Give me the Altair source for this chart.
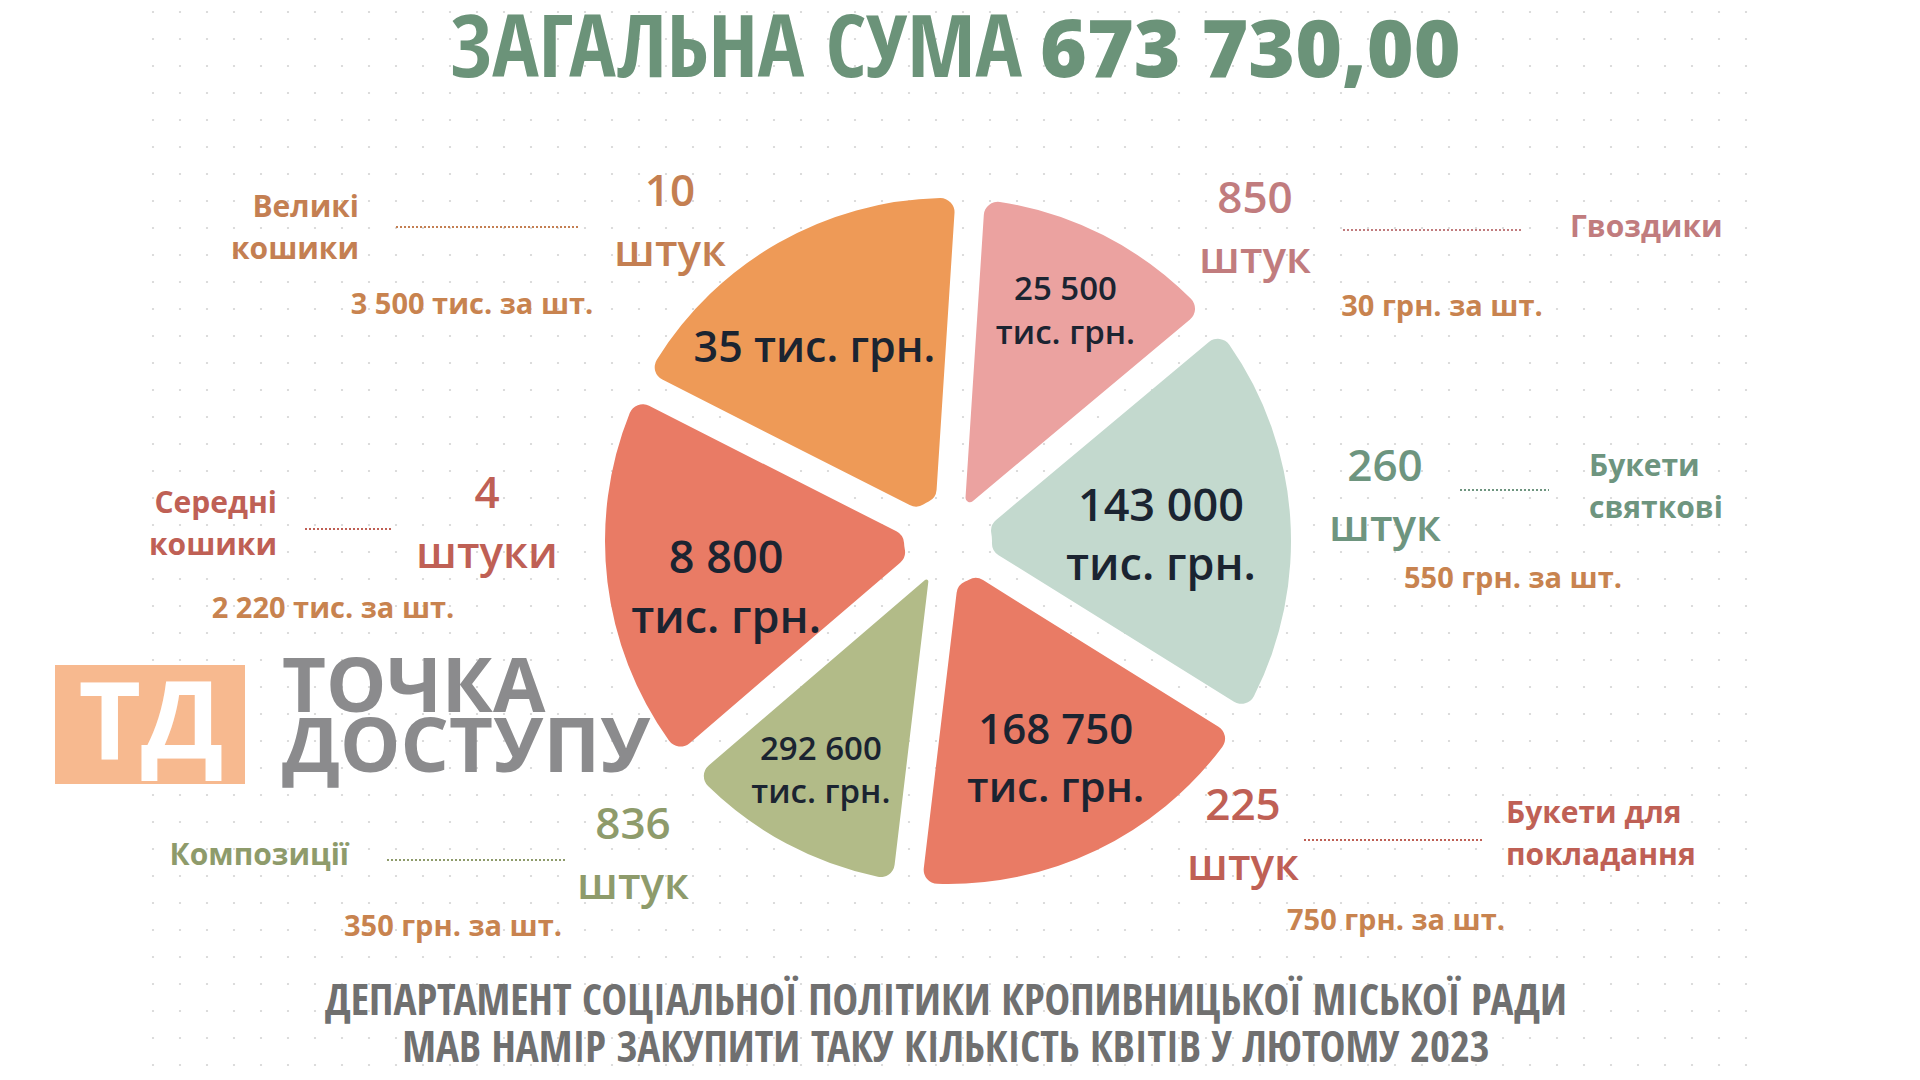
import math
import altair as alt
import numpy as np
import pandas as pd

# ------------------------------------------------------------------ data
categories = ["Гвоздики", "Букети святкові", "Букети для покладання",
              "Композиції", "Середні кошики", "Великі кошики"]
name_lines = ["Гвоздики", "Букети\nсвяткові", "Букети для\nпокладання",
              "Композиції", "Середні\nкошики", "Великі\nкошики"]
counts = [850, 260, 225, 836, 4, 10]
count_units = ["штук", "штук", "штук", "штук", "штуки", "штук"]
unit_prices = ["30 грн. за шт.", "550 грн. за шт.", "750 грн. за шт.",
               "350 грн. за шт.", "2 220 тис. за шт.", "3 500 тис. за шт."]
totals = ["25 500", "143 000", "168 750", "292 600", "8 800", "35"]
slice_spans = [46.4, 71.8, 64.9, 42.6, 67.5, 66.8]   # degrees

title_left = "ЗАГАЛЬНА СУМА"
title_total = "673 730,00"
footer_lines = ["ДЕПАРТАМЕНТ СОЦІАЛЬНОЇ ПОЛІТИКИ КРОПИВНИЦЬКОЇ МІСЬКОЇ РАДИ",
                "МАВ НАМІР ЗАКУПИТИ ТАКУ КІЛЬКІСТЬ КВІТІВ У ЛЮТОМУ 2023"]
logo_mark = "ТД"
logo_words = ["ТОЧКА", "ДОСТУПУ"]

# ------------------------------------------------------------------ styles / layout
W, H = 1920, 1080
CX, CY, R = 948, 541, 343
START = math.radians(3.7)
FONT = "Open Sans"
NARROW = ("Liberation Sans Narrow, Noto Sans Condensed, Noto Sans ExtraCondensed, "
          "Open Sans Condensed, DejaVu Sans Condensed, Open Sans")

slice_colors = ["#EBA2A0", "#C3D9CE", "#E97B65", "#B2BB88", "#E97B65", "#EE9A57"]
label_colors = ["#C17C7E", "#6E957F", "#BF6055", "#8E9B6B", "#BF6055", "#C47F52"]
price_color = "#C8834F"
dark = "#1B2431"

# inside label: centre angle (deg), radius, font size, line height, one-line flag
in_angle = [27.2, 88.7, 153.8, 208.9, 257.8, 325.2]
in_radius = [257, 213, 244, 263, 227, 234]
in_size = [33, 45, 42, 33, 45, 43]
in_lh = [44, 59, 58, 43, 60, 0]
in_oneline = [0, 0, 0, 0, 0, 1]

# outer annotations (first-line positions)
name_pos = [(1570, 228, "left"), (1589, 467, "left"), (1506, 814, "left"),
            (349, 856, "right"), (277, 504, "right"), (359, 208, "right")]
count_pos = [(1255, 200), (1385, 468), (1243, 807), (633, 826), (487, 495), (670, 193)]
price_pos = [(1442, 307), (1513, 579), (1396, 921), (453, 927), (333, 609), (472, 305)]
leader = [(1343, 1521, 230), (1460, 1549, 490), (1304, 1482, 840),
          (387, 566, 860), (305, 392, 529), (396, 579, 227)]

# ------------------------------------------------------------------ frames
slices = pd.DataFrame({
    "category": categories,
    "span": slice_spans,
    "order": list(range(len(categories))),
    "color": slice_colors,
    "lab": [t + (" тис. грн." if one else "\nтис. грн.") for t, one in zip(totals, in_oneline)],
    "lab_theta": [math.radians(a) for a in in_angle],
    "lab_r": in_radius,
    "lab_size": in_size,
})

names = pd.DataFrame({
    "text": name_lines,
    "x": [p[0] for p in name_pos],
    "y": [p[1] for p in name_pos],
    "align": [p[2] for p in name_pos],
    "color": label_colors,
})
cnts = pd.DataFrame({
    "text": [f"{c}\n{u}" for c, u in zip(counts, count_units)],
    "x": [p[0] for p in count_pos],
    "y": [p[1] for p in count_pos],
    "color": label_colors,
})
prices = pd.DataFrame({
    "text": unit_prices,
    "x": [p[0] for p in price_pos],
    "y": [p[1] for p in price_pos],
})
leaders = pd.DataFrame({
    "x1": [l[0] for l in leader],
    "x2": [l[1] for l in leader],
    "y": [l[2] for l in leader],
    "color": label_colors,
})
gx, gy = np.meshgrid(np.arange(153, 1760, 27), np.arange(12, 1080, 27))
grid = pd.DataFrame({"x": gx.ravel(), "y": gy.ravel()})
one = pd.DataFrame({"k": [0]})

X = lambda f: alt.X(f, scale=None, axis=None)
Y = lambda f: alt.Y(f, scale=None, axis=None)

# ------------------------------------------------------------------ layers
dots = alt.Chart(grid).mark_circle(size=5, color="#D4D4D4", opacity=1).encode(
    x=X("x:Q"), y=Y("y:Q"))

pie = alt.Chart(slices).mark_arc(
    outerRadius=R, innerRadius=44, padAngle=0.085, cornerRadius=14
).encode(
    theta=alt.Theta("span:Q", stack=True,
                    scale=alt.Scale(range=[START, START + 2 * math.pi])),
    order=alt.Order("order:Q"),
    color=alt.Color("color:N", scale=None, legend=None),
    x=alt.value(CX), y=alt.value(CY),
)


def inside(i):
    lh = in_lh[i]
    nlines = 1 if in_oneline[i] else 2
    return alt.Chart(slices).transform_filter(f"datum.order == {i}").mark_text(
        font=FONT, fontWeight=600, lineBreak="\n", lineHeight=max(lh, 1),
        align="center", baseline="middle", color=dark,
        dy=-(nlines - 1) * lh / 2,
    ).encode(
        theta=alt.Theta("lab_theta:Q", scale=None),
        radius=alt.Radius("lab_r:Q", scale=None),
        text="lab:N",
        size=alt.Size("lab_size:Q", scale=None, legend=None),
        x=alt.value(CX), y=alt.value(CY),
    )


inside_layers = [inside(i) for i in range(len(categories))]


def names_layer(align):
    return alt.Chart(names).transform_filter(f"datum.align == '{align}'").mark_text(
        font=FONT, fontWeight="bold", fontSize=30, lineBreak="\n", lineHeight=42,
        align=align, baseline="middle"
    ).encode(x=X("x:Q"), y=Y("y:Q"), text="text:N",
             color=alt.Color("color:N", scale=None, legend=None))


count_layer = alt.Chart(cnts).mark_text(
    font=FONT, fontWeight=600, fontSize=44, lineBreak="\n", lineHeight=60,
    align="center", baseline="middle"
).encode(x=X("x:Q"), y=Y("y:Q"), text="text:N",
         color=alt.Color("color:N", scale=None, legend=None))

price_layer = alt.Chart(prices).mark_text(
    font=FONT, fontWeight="bold", fontSize=29, align="center", baseline="middle",
    color=price_color
).encode(x=X("x:Q"), y=Y("y:Q"), text="text:N")

leader_layer = alt.Chart(leaders).mark_rule(strokeDash=[2, 2], strokeWidth=2).encode(
    x=X("x1:Q"), x2="x2:Q", y=Y("y:Q"),
    color=alt.Color("color:N", scale=None, legend=None))

title_a = alt.Chart(pd.DataFrame({"t": [title_left]})).mark_text(
    font=NARROW, fontWeight="bold", fontSize=87, align="right",
    baseline="alphabetic", color="#6B9379"
).encode(x=alt.value(1022), y=alt.value(77), text="t:N")
title_b = alt.Chart(pd.DataFrame({"t": [title_total]})).mark_text(
    font=FONT, fontWeight=800, fontSize=80, align="left",
    baseline="alphabetic", color="#6B9379"
).encode(x=alt.value(1040), y=alt.value(77), text="t:N")

footer = alt.Chart(pd.DataFrame({"t": footer_lines, "y": [1002, 1049]})).mark_text(
    font=NARROW, fontWeight="bold", fontSize=43, align="center",
    baseline="middle", color="#707070"
).encode(x=alt.value(946), y=Y("y:Q"), text="t:N")

logo_box = alt.Chart(one).mark_rect(color="#F7B98F").encode(
    x=alt.value(55), x2=alt.value(245), y=alt.value(665), y2=alt.value(784))
logo_td = alt.Chart(pd.DataFrame({"t": [logo_mark]})).mark_text(
    font=FONT, fontWeight="bold", fontSize=108, align="center",
    baseline="middle", color="white"
).encode(x=alt.value(151), y=alt.value(727), text="t:N")
logo_txt = alt.Chart(pd.DataFrame({"t": logo_words, "y": [689, 749]})).mark_text(
    font=FONT, fontWeight="bold", fontSize=76, align="left",
    baseline="middle", color="#8B8B8D"
).encode(x=alt.value(282), y=Y("y:Q"), text="t:N")

chart = alt.layer(
    dots, pie, *inside_layers,
    leader_layer, names_layer("left"), names_layer("right"),
    count_layer, price_layer,
    title_a, title_b, footer,
    logo_box, logo_td, logo_txt,
).properties(
    width=W, height=H, padding=0,
    autosize=alt.AutoSizeParams(type="none"),
    background="white",
).configure_view(strokeWidth=0)

chart.save("out.html", embed_options={"renderer": "svg", "actions": False})
